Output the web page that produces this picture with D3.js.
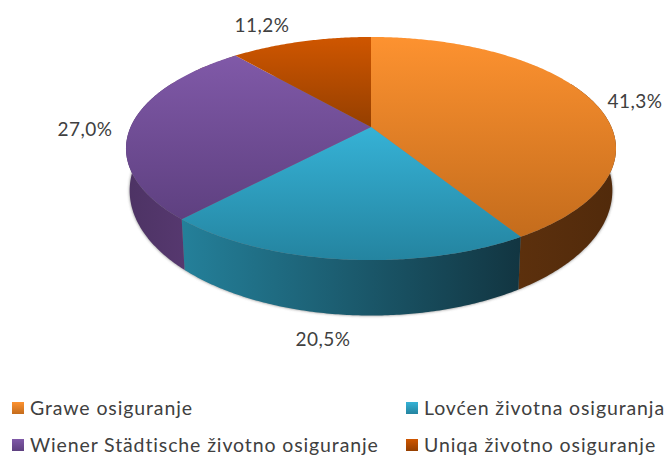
<!DOCTYPE html>
<html>
<head>
<meta charset="utf-8">
<script src="https://cdn.jsdelivr.net/npm/d3@7"></script>
<style>
html, body { margin: 0; padding: 0; background: #fff; overflow: hidden; }
svg { display: block; }
text { font-family: Lato, sans-serif; fill: #404040; }
</style>
</head>
<body>
<script>
//chart data
var categories = ["Grawe osiguranje", "Lovćen životna osiguranja", "Wiener Städtische životno osiguranje", "Uniqa životno osiguranje"];
var shares = [41.3, 20.5, 27.0, 11.2];

//colours per slice: top face light/dark, wall left/right
var topLight = ["#fd9230", "#36b2d6", "#8059a8", "#cf5600"];
var topDark = ["#c46c1c", "#2484a0", "#5e4080", "#953f00"];
var wallLeft = ["#5c300d", "#24809a", "#4d3364", "#8a3b00"];
var wallRight = ["#512a0b", "#123541", "#56386f", "#8a3b00"];

//frame and pie geometry
var width = 665, height = 456;
var apexX = 371, apexY = 127;
var radiusX = 240.4, radiusY = 107.4, tilt = 0.193; //tilt is the perspective of the disc
var topMidY = 148, lowMidY = 190; //middle of the top ellipse and of the lower one
var lowScaleX = 0.985, lowScaleY = 1.12;

//label centres and legend layout
var labelAt = [[635, 101], [323, 339], [85, 129], [262, 25]];
var legendCols = [12, 406], legendRows = [408, 445];

var svg = d3.select("body").append("svg")
	.attr("width", width)
	.attr("height", height);

var defs = svg.append("defs");

function addGradient(id, from, to, vertical){
	var g = defs.append("linearGradient")
		.attr("id", id)
		.attr("x1", 0).attr("y1", 0)
		.attr("x2", vertical ? 0 : 1).attr("y2", vertical ? 1 : 0);
	g.append("stop").attr("offset", "0%").attr("stop-color", from);
	g.append("stop").attr("offset", "100%").attr("stop-color", to);
}

categories.forEach(function(d, i){
	addGradient("top" + i, topLight[i], topDark[i], true);
	addGradient("wall" + i, wallLeft[i], wallRight[i], false);
});

defs.append("filter").attr("id", "soft")
	.attr("x", "-5%").attr("y", "-5%").attr("width", "110%").attr("height", "110%")
	.append("feGaussianBlur").attr("stdDeviation", 1.6);

//angle on the disc (clockwise from the top) to a point of the top face
function rim(angle){
	var u = Math.sin(angle), v = Math.cos(angle), w = 1 + tilt * v;
	return [apexX + radiusX * u / w, apexY - radiusY * v / w];
}

//same angle on the lower face
function rimBottom(angle){
	var p = rim(angle);
	return [apexX + (p[0] - apexX) * lowScaleX, lowMidY + (p[1] - topMidY) * lowScaleY];
}

function sweep(a0, a1){
	var n = Math.max(2, Math.ceil((a1 - a0) / 0.01));
	return d3.range(n + 1).map(function(k){ return a0 + (a1 - a0) * k / n; });
}

var line = d3.line();
var slices = d3.pie().sort(null)(shares);

//soft shadow along the outer edge
svg.append("path")
	.attr("d", line(sweep(0, 2 * Math.PI).map(rimBottom)) + "Z")
	.attr("fill", "#555")
	.attr("opacity", 0.75)
	.attr("filter", "url(#soft)");

//walls first, the top faces cover the back part of them
svg.selectAll(".wall")
	.data(slices)
	.enter()
	.append("path")
	.attr("class", "wall")
	.attr("fill", function(d, i){ return "url(#wall" + i + ")"; })
	.attr("d", function(d){
		//only the front part of the rim is visible, the gradient has to span that part
		var a0 = Math.max(d.startAngle, Math.PI / 2 - 0.45), a1 = Math.min(d.endAngle, 3 * Math.PI / 2 + 0.45);
		var arc = sweep(a0, a1);
		return line(arc.map(rim).concat(arc.slice().reverse().map(rimBottom))) + "Z";
	});

svg.selectAll(".slice")
	.data(slices)
	.enter()
	.append("path")
	.attr("class", "slice")
	.attr("fill", function(d, i){ return "url(#top" + i + ")"; })
	.attr("d", function(d){
		return line([[apexX, apexY]].concat(sweep(d.startAngle, d.endAngle).map(rim))) + "Z";
	});

//percent labels
svg.selectAll(".label")
	.data(shares)
	.enter()
	.append("text")
	.attr("class", "label")
	.attr("x", function(d, i){ return labelAt[i][0]; })
	.attr("y", function(d, i){ return labelAt[i][1]; })
	.attr("dy", "0.35em")
	.attr("text-anchor", "middle")
	.style("font-size", "19px")
	.style("letter-spacing", "0.5px")
	.text(function(d){ return d3.format(".1f")(d).replace(".", ",") + "%"; });

//legend, two columns
var legend = svg.selectAll(".legend")
	.data(categories)
	.enter()
	.append("g")
	.attr("class", "legend")
	.attr("transform", function(d, i){
		return "translate(" + legendCols[i % 2] + "," + legendRows[i >> 1] + ")";
	});

legend.append("rect")
	.attr("y", -6)
	.attr("width", 12)
	.attr("height", 12)
	.attr("fill", function(d, i){ return "url(#top" + i + ")"; });

legend.append("text")
	.attr("x", 18)
	.attr("dy", "0.35em")
	.style("font-size", "19.5px")
	.style("letter-spacing", "0.88px")
	.text(function(d){ return d; });
</script>
</body>
</html>
